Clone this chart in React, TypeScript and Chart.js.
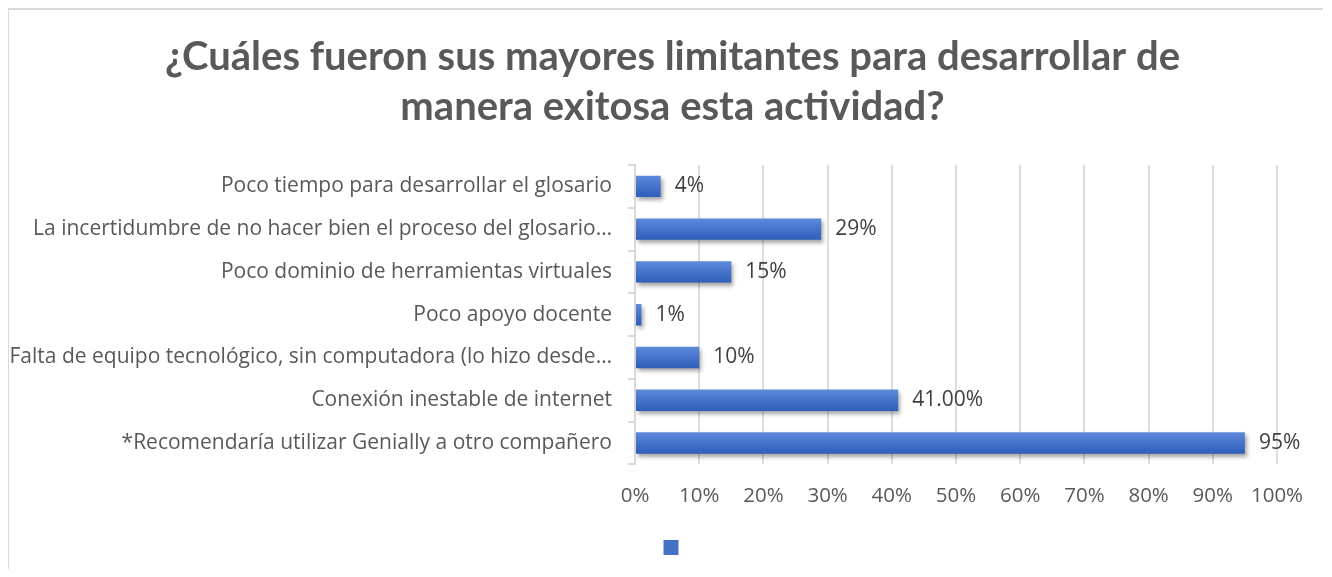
import React, { useEffect, useRef } from "react";
import { Chart, registerables } from "chart.js";

Chart.register(...registerables);

const titleLines = [
  "¿Cuáles fueron sus mayores limitantes para desarrollar de",
  "manera exitosa esta actividad?",
];

const categories = [
  "Poco tiempo para desarrollar el glosario",
  "La incertidumbre de no hacer bien el proceso del glosario…",
  "Poco dominio de herramientas virtuales",
  "Poco apoyo docente",
  "Falta de equipo tecnológico, sin computadora (lo hizo desde…",
  "Conexión inestable de internet",
  "*Recomendaría utilizar Genially a otro compañero",
];

const values = [0.04, 0.29, 0.15, 0.01, 0.1, 0.41, 0.95];

const valueLabels = ["4%", "29%", "15%", "1%", "10%", "41.00%", "95%"];

const TITLE_FONT = "Lato, 'Noto Sans', sans-serif";
const FONT = "'Open Sans', 'Noto Sans', sans-serif";

export default function App() {
  const ref = useRef<HTMLCanvasElement | null>(null);

  useEffect(() => {
    const canvas = ref.current;
    if (!canvas) return;

    const barFill = (c: any) => {
      const chart = c.chart;
      if (c.type !== "data" || !chart.chartArea || !chart.scales.y) return "#4472C4";
      const y = chart.scales.y.getPixelForValue(c.dataIndex);
      const half = 11;
      const g = chart.ctx.createLinearGradient(0, y - half, 0, y + half);
      g.addColorStop(0, "#5E8BDA");
      g.addColorStop(0.5, "#4673CB");
      g.addColorStop(1, "#2E5DB8");
      return g;
    };

    // let the long category labels run past the y-scale box (no clipping)
    const noClipPlugin = {
      id: "noLabelClip",
      beforeDraw(chart: any) {
        const y = chart.scales.y;
        if (y) y._computeLabelArea = () => undefined;
      },
    };

    const shadowPlugin = {
      id: "barShadow",
      beforeDatasetsDraw(chart: any) {
        const ctx = chart.ctx;
        ctx.save();
        ctx.shadowColor = "rgba(0,0,0,0.35)";
        ctx.shadowBlur = 4;
        ctx.shadowOffsetX = 2;
        ctx.shadowOffsetY = 3;
      },
      afterDatasetsDraw(chart: any) {
        chart.ctx.restore();
      },
    };

    const labelPlugin = {
      id: "valueLabels",
      afterDraw(chart: any) {
        const ctx = chart.ctx;
        const meta = chart.getDatasetMeta(0);
        ctx.save();
        ctx.font = `21px ${FONT}`;
        ctx.fillStyle = "#404040";
        ctx.textAlign = "left";
        ctx.textBaseline = "middle";
        meta.data.forEach((el: any, i: number) => {
          ctx.fillText(valueLabels[i], el.x + 14, el.y);
        });
        ctx.restore();
      },
    };

    const chart = new Chart(canvas, {
      type: "bar",
      data: {
        labels: categories,
        datasets: [
          {
            label: "",
            data: values,
            backgroundColor: barFill,
            borderWidth: 0,
            categoryPercentage: 1,
            barPercentage: 0.5,
          },
        ],
      },
      options: {
        indexAxis: "y",
        responsive: false,
        animation: false,
        devicePixelRatio: 1,
        layout: { padding: { left: 59, right: 46, top: 0, bottom: 4 } },
        plugins: {
          title: {
            display: true,
            text: titleLines,
            color: "#595959",
            font: { family: TITLE_FONT, size: 40, weight: "bold", lineHeight: "50px" },
            padding: { top: 22, bottom: 33 },
          },
          legend: {
            display: true,
            position: "bottom",
            labels: {
              boxWidth: 15,
              boxHeight: 15,
              padding: 13,
              font: { family: FONT, size: 6 },
              generateLabels: () => [
                {
                  text: "",
                  fillStyle: "#4472C4",
                  strokeStyle: "#4472C4",
                  lineWidth: 0,
                  hidden: false,
                  datasetIndex: 0,
                },
              ],
            },
          },
          tooltip: { enabled: false },
        },
        scales: {
          x: {
            min: 0,
            max: 1,
            grid: { color: "#dedede", lineWidth: 2, drawTicks: false },
            border: { display: false },
            ticks: {
              stepSize: 0.1,
              padding: 19,
              color: "#595959",
              font: { family: FONT, size: 20.5 },
              callback: (v: any) => Math.round(Number(v) * 100) + "%",
            },
          },
          y: {
            afterFit: (scale: any) => {
              scale.width = 567;
            },
            grid: {
              drawOnChartArea: false,
              color: "#d9d9d9",
              lineWidth: 2,
              tickLength: 7,
              offset: true,
            },
            border: { display: true, color: "#d9d9d9", width: 2 },
            ticks: {
              autoSkip: false,
              padding: 16,
              color: "#595959",
              font: { family: FONT, size: 21 },
            },
          },
        },
      },
      plugins: [noClipPlugin, shadowPlugin, labelPlugin],
    });

    return () => chart.destroy();
  }, []);

  return (
    <div
      style={{
        marginLeft: -1,
        width: 1316,
        height: 561,
        boxSizing: "border-box",
        borderLeft: "2px solid #d9d9d9",
        borderTop: "2px solid #d9d9d9",
      }}
    >
      <canvas ref={ref} width={1314} height={559} style={{ display: "block" }} />
    </div>
  );
}
